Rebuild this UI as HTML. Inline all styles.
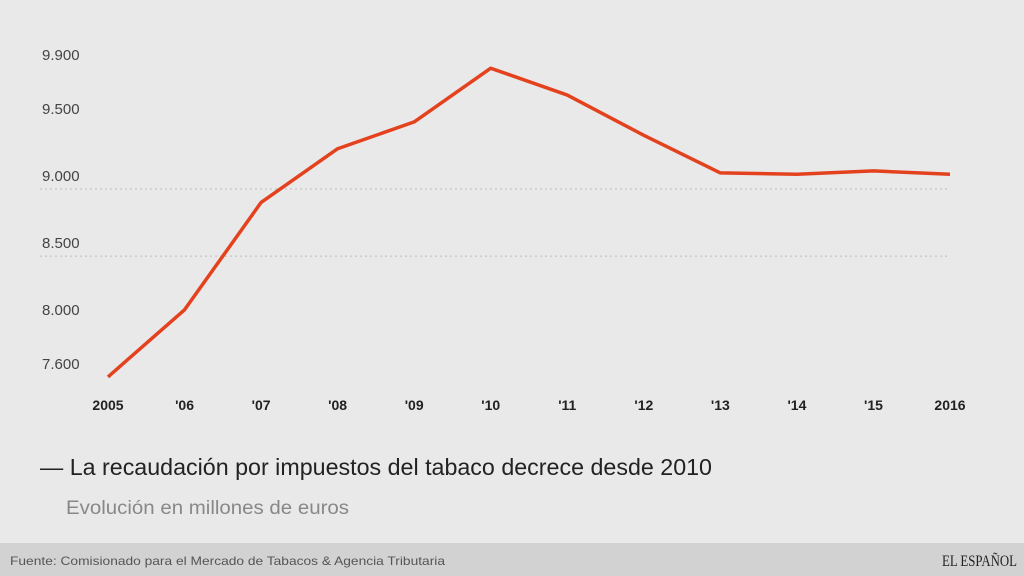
<!DOCTYPE html>
<html><head><meta charset="utf-8"><style>
html,body{margin:0;padding:0;background:#e9e9e9;}
svg{display:block;font-family:"Liberation Sans",sans-serif;}
</style></head><body>
<svg id="chart" width="1024" height="576" viewBox="0 0 1024 576">
<rect x="0" y="0" width="1024" height="576" fill="#e9e9e9"/>
<g id="grid"></g>
<g id="yaxis"></g>
<g id="xaxis"></g>
<g id="series"></g>
<text x="40" y="475" font-size="23" fill="#222" textLength="672" lengthAdjust="spacingAndGlyphs">— La recaudación por impuestos del tabaco decrece desde 2010</text>
<text x="66" y="514" font-size="19" fill="#888" textLength="283" lengthAdjust="spacingAndGlyphs">Evolución en millones de euros</text>
<rect x="0" y="543" width="1024" height="33" fill="#d2d2d2"/>
<text x="10" y="565" font-size="12" fill="#555" textLength="435" lengthAdjust="spacingAndGlyphs">Fuente: Comisionado para el Mercado de Tabacos &amp; Agencia Tributaria</text>
<text x="942" y="566" font-size="16" fill="#222" font-family="Liberation Serif,serif" textLength="75" lengthAdjust="spacingAndGlyphs">EL ESPAÑOL</text>
</svg>
<script>
const categories = ["2005","'06","'07","'08","'09","'10","'11","'12","'13","'14","'15","2016"];
const values = [7600,8100,8900,9300,9500,9900,9700,9400,9120,9110,9135,9110];
const yTicks = [7600,8000,8500,9000,9500,9900];
const yTickLabels = ["7.600","8.000","8.500","9.000","9.500","9.900"];
const gridValues = [8500,9000];

const NS="http://www.w3.org/2000/svg";
function xScale(i){return 108+i*(950-108)/(categories.length-1);}
function yScale(v){return 189-(v-9000)*0.1342;}
function mk(tag,attrs,parent){const e=document.createElementNS(NS,tag);for(const k in attrs)e.setAttribute(k,attrs[k]);parent.appendChild(e);return e;}
const grid=document.getElementById('grid');
gridValues.forEach(v=>{
  const l=mk('line',{x1:40,x2:950,y1:yScale(v),y2:yScale(v),stroke:'#bdbdbd','stroke-dasharray':'2,3','stroke-width':1},grid);
  
  
});
const yaxis=document.getElementById('yaxis');
yTicks.forEach((v,i)=>{
  const t=mk('text',{x:42,y:yScale(v)-8,'font-size':15,fill:'#444'},yaxis);
  t.textContent=yTickLabels[i];
  
  
});
const xaxis=document.getElementById('xaxis');
categories.forEach((c,i)=>{
  const t=mk('text',{x:xScale(i),y:410,'font-size':14,'font-weight':'bold',fill:'#222','text-anchor':'middle'},xaxis);
  t.textContent=c;
  
  
});
const pts=values.map((v,i)=>xScale(i)+','+yScale(v)).join(' ');
const line=mk('polyline',{points:pts,fill:'none',stroke:'#e4421f','stroke-width':3.5,'stroke-linejoin':'round'},document.getElementById('series'));


</script>
</body></html>
